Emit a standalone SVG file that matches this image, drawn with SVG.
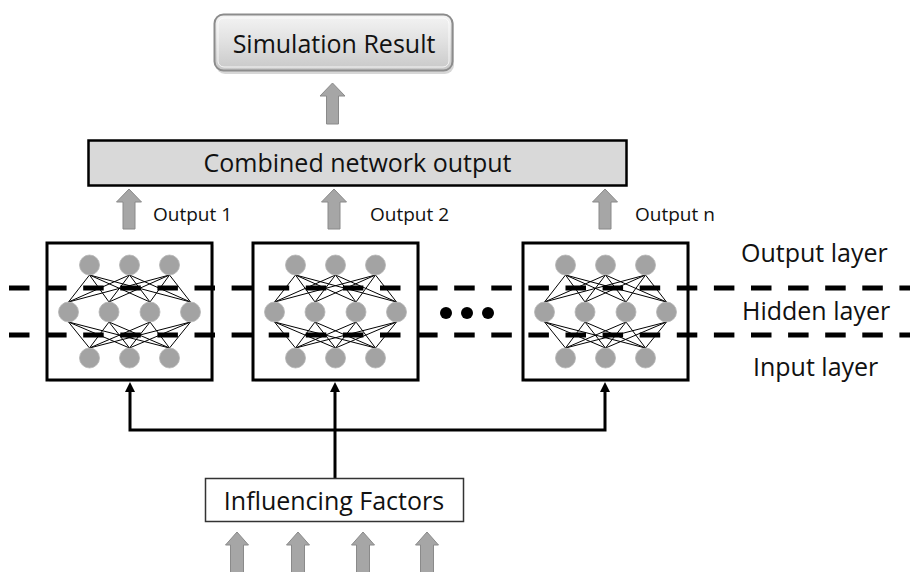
<svg xmlns="http://www.w3.org/2000/svg" xmlns:xlink="http://www.w3.org/1999/xlink" width="910" height="572" viewBox="0 0 910 572">
<defs>
<style>
text{font-family:"Open Sans","Noto Sans","Liberation Sans",sans-serif;fill:#111}
.big{font-size:25px}
.small{font-size:19px}
.blk{fill:#a6a6a6;stroke:#8a8a8a;stroke-width:1}
.netbox{fill:#fff;stroke:#000;stroke-width:3}
.node{fill:#a3a3a3;stroke:#b5b5b5;stroke-width:0.8}
.edge{stroke:#000;stroke-width:1;fill:none}
.dash{stroke:#000;stroke-width:5;stroke-dasharray:20.5 16.6;fill:none}
.conn{stroke:#000;stroke-width:3;fill:none}
</style>
<linearGradient id="simg" x1="0" y1="0" x2="0" y2="1">
<stop offset="0" stop-color="#f4f4f4"/>
<stop offset="0.5" stop-color="#e0e0e0"/>
<stop offset="1" stop-color="#c8c8c8"/>
</linearGradient>
<g id="net">
<g class="edge">
<path d="M-40,275 L-61,302 M-40,275 L-20.5,302 M-40,275 L20.5,302 M-40,275 L61,302 M0,275 L-61,302 M0,275 L-20.5,302 M0,275 L20.5,302 M0,275 L61,302 M40,275 L-61,302 M40,275 L-20.5,302 M40,275 L20.5,302 M40,275 L61,302"/>
<path d="M-61,322 L-40,348 M-61,322 L0,348 M-61,322 L40,348 M-20.5,322 L-40,348 M-20.5,322 L0,348 M-20.5,322 L40,348 M20.5,322 L-40,348 M20.5,322 L0,348 M20.5,322 L40,348 M61,322 L-40,348 M61,322 L0,348 M61,322 L40,348"/>
</g>
<circle class="node" cx="-40" cy="265" r="10"/>
<circle class="node" cx="0" cy="265" r="10"/>
<circle class="node" cx="40" cy="265" r="10"/>
<circle class="node" cx="-61" cy="312" r="10"/>
<circle class="node" cx="-20.5" cy="312" r="10"/>
<circle class="node" cx="20.5" cy="312" r="10"/>
<circle class="node" cx="61" cy="312" r="10"/>
<circle class="node" cx="-40" cy="358" r="10"/>
<circle class="node" cx="0" cy="358" r="10"/>
<circle class="node" cx="40" cy="358" r="10"/>
</g>
</defs>
<rect width="910" height="572" fill="#fff"/>

<g id="simulation-result">
<rect x="216" y="16" width="238" height="58" rx="9" fill="#bdbdbd" opacity="0.6"/>
<rect x="214.5" y="14.5" width="238" height="56" rx="9" fill="url(#simg)" stroke="#8c8c8c" stroke-width="2"/>
<rect x="218" y="18" width="231" height="49" rx="6" fill="none" stroke="#ffffff" stroke-width="1" opacity="0.8"/>
<text class="big" x="334" y="53" text-anchor="middle">Simulation Result</text>
</g>

<g id="arrow-to-result">
<polygon class="blk" points="332.5,83 345,96 338.5,96 338.5,124 326.5,124 326.5,96 320,96"/>
</g>

<g id="combined-output">
<rect x="88.5" y="140.5" width="538" height="45" fill="#d9d9d9" stroke="#000" stroke-width="2.5"/>
<text class="big" x="357.5" y="172" text-anchor="middle">Combined network output</text>
</g>

<g id="output-arrows">
<polygon class="blk" points="129,189 141.5,202 135,202 135,229 123,229 123,202 116.5,202"/>
<polygon class="blk" points="334,189 346.5,202 340,202 340,229 328,229 328,202 321.5,202"/>
<polygon class="blk" points="605,189 617.5,202 611,202 611,229 599,229 599,202 592.5,202"/>
<text class="small" x="153" y="221">Output 1</text>
<text class="small" x="370" y="221">Output 2</text>
<text class="small" x="635" y="221">Output n</text>
</g>

<g id="network-1">
<rect x="49" y="245" width="165" height="137" fill="#d8d8d8" opacity="0.5"/>
<rect class="netbox" x="47" y="243" width="165" height="137"/>
<use xlink:href="#net" transform="translate(129.5,0)"/>
</g>
<g id="network-2">
<rect x="255" y="245" width="165" height="137" fill="#d8d8d8" opacity="0.5"/>
<rect class="netbox" x="253" y="243" width="165" height="137"/>
<use xlink:href="#net" transform="translate(335.5,0)"/>
</g>
<g id="network-n">
<rect x="525" y="245" width="165" height="137" fill="#d8d8d8" opacity="0.5"/>
<rect class="netbox" x="523" y="243" width="165" height="137"/>
<use xlink:href="#net" transform="translate(605.5,0)"/>
</g>

<g id="ellipsis">
<circle cx="446" cy="313" r="6" fill="#000"/>
<circle cx="467" cy="313" r="6" fill="#000"/>
<circle cx="488" cy="313" r="6" fill="#000"/>
</g>

<g id="layer-lines">
<line class="dash" x1="9" y1="288" x2="910" y2="288"/>
<line class="dash" x1="9" y1="335" x2="910" y2="335"/>
</g>

<g id="layer-labels">
<text class="big" x="741" y="262">Output layer</text>
<text class="big" x="742" y="320">Hidden layer</text>
<text class="big" x="753" y="376">Input layer</text>
</g>

<g id="connectors">
<path class="conn" d="M335,478 V390"/>
<path class="conn" d="M335,430 H130 V390"/>
<path class="conn" d="M335,430 H605 V390"/>
<polygon points="130,382 125,392 135,392" fill="#000"/>
<polygon points="335,382 330,392 340,392" fill="#000"/>
<polygon points="605,382 600,392 610,392" fill="#000"/>
</g>

<g id="influencing-factors">
<rect x="205.5" y="478.5" width="258" height="43" fill="#fff" stroke="#333" stroke-width="1.5"/>
<text class="big" x="334" y="509.5" text-anchor="middle">Influencing Factors</text>
</g>

<g id="input-arrows">
<polygon class="blk" points="237,532 248.5,545 243.5,545 243.5,573 230.5,573 230.5,545 225.5,545"/>
<polygon class="blk" points="298,532 309.5,545 304.5,545 304.5,573 291.5,573 291.5,545 286.5,545"/>
<polygon class="blk" points="363,532 374.5,545 369.5,545 369.5,573 356.5,573 356.5,545 351.5,545"/>
<polygon class="blk" points="427,532 438.5,545 433.5,545 433.5,573 420.5,573 420.5,545 415.5,545"/>
</g>
</svg>
